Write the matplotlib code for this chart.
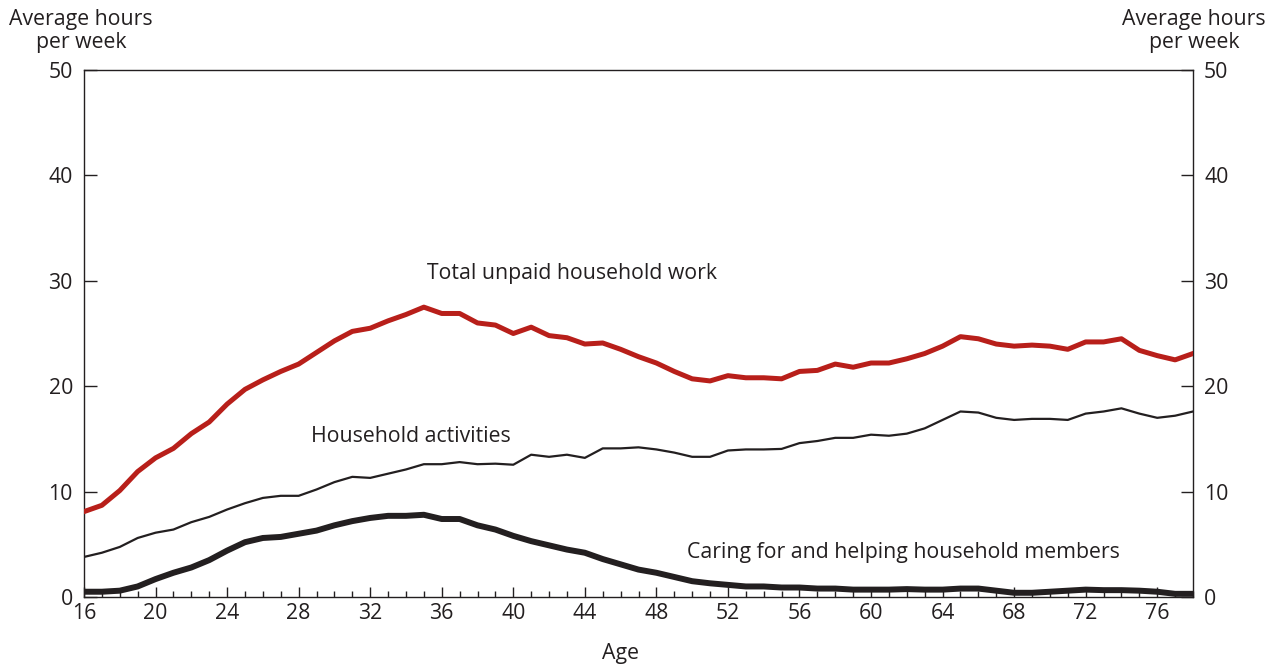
import matplotlib
matplotlib.use("Agg")
import matplotlib.pyplot as plt
from matplotlib.ticker import MultipleLocator

ages = list(range(16, 79))
total = [8.1, 8.7, 10.1, 11.9, 13.2, 14.1, 15.5, 16.6, 18.3, 19.7, 20.6, 21.4, 22.1, 23.2, 24.3, 25.2,
         25.5, 26.2, 26.8, 27.5, 26.9, 26.9, 26.0, 25.8, 25.0, 25.6, 24.8, 24.6, 24.0, 24.1, 23.5, 22.8,
         22.2, 21.4, 20.7, 20.5, 21.0, 20.8, 20.8, 20.7, 21.4, 21.5, 22.1, 21.8, 22.2, 22.2, 22.6, 23.1,
         23.8, 24.7, 24.5, 24.0, 23.8, 23.9, 23.8, 23.5, 24.2, 24.2, 24.5, 23.4, 22.9, 22.5, 23.1]
household = [3.8, 4.2, 4.75, 5.6, 6.1, 6.4, 7.1, 7.6, 8.3, 8.9, 9.4, 9.6, 9.6, 10.2, 10.9, 11.4,
             11.3, 11.7, 12.1, 12.6, 12.6, 12.8, 12.6, 12.65, 12.55, 13.5, 13.3, 13.5, 13.2, 14.1, 14.1, 14.2,
             14.0, 13.7, 13.3, 13.3, 13.9, 14.0, 14.0, 14.05, 14.6, 14.8, 15.1, 15.1, 15.4, 15.3, 15.5, 16.0,
             16.8, 17.6, 17.5, 17.0, 16.8, 16.9, 16.9, 16.8, 17.4, 17.6, 17.9, 17.4, 17.0, 17.2, 17.6]
caring = [0.5, 0.5, 0.6, 1.0, 1.7, 2.3, 2.8, 3.5, 4.4, 5.2, 5.6, 5.7, 6.0, 6.3, 6.8, 7.2,
          7.5, 7.7, 7.7, 7.8, 7.4, 7.4, 6.8, 6.4, 5.8, 5.3, 4.9, 4.5, 4.2, 3.6, 3.1, 2.6,
          2.3, 1.9, 1.5, 1.3, 1.15, 1.0, 1.0, 0.9, 0.9, 0.8, 0.8, 0.7, 0.7, 0.7, 0.75, 0.7,
          0.7, 0.8, 0.8, 0.6, 0.4, 0.4, 0.5, 0.6, 0.7, 0.65, 0.65, 0.6, 0.5, 0.3, 0.3]
x_ticks = list(range(16, 79, 4))
y_ticks = [0, 10, 20, 30, 40, 50]

plt.rcParams['font.family'] = ['Open Sans', 'DejaVu Sans']
TXT = '#231f20'
FS = 15.3

fig = plt.figure(figsize=(12.76, 6.66), dpi=100)
ax = fig.add_axes([84/1276, 1-597/666, (1193-84)/1276, (597-70)/666])

ax.plot(ages, total, color='#b81f1a', lw=3.6, solid_joinstyle='round', zorder=3)
ax.plot(ages, household, color=TXT, lw=1.6, zorder=3)
ax.plot(ages, caring, color=TXT, lw=4.3, solid_joinstyle='round', zorder=3)

ax.set_xlim(16, 78)
ax.set_ylim(0, 50)
ax.set_xticks(x_ticks)
ax.xaxis.set_minor_locator(MultipleLocator(1))
ax.set_yticks(y_ticks)
ax.tick_params(axis='x', which='major', direction='in', length=7.5, width=1, color=TXT,
               labelsize=FS, labelcolor=TXT, pad=4)
ax.tick_params(axis='x', which='minor', direction='in', length=4, width=1, color=TXT)
ax.tick_params(axis='y', which='major', direction='in', length=9, width=1, color=TXT,
               labelsize=FS, labelcolor=TXT, left=True, right=True, labelleft=True, labelright=True, pad=8)
for s in ax.spines.values():
    s.set_color(TXT)
    s.set_linewidth(1.0)

fig.text(81/1276, 1-31/666, 'Average hours\nper week', ha='center', va='center', fontsize=FS,
         color=TXT, linespacing=1.15)
fig.text(1194/1276, 1-31/666, 'Average hours\nper week', ha='center', va='center', fontsize=FS,
         color=TXT, linespacing=1.15)
fig.text(620/1276, 1-653/666, 'Age', ha='center', va='center', fontsize=FS, color=TXT)

ax.text(35.17, 30.7, 'Total unpaid household work', fontsize=FS, color=TXT, va='center', ha='left')
ax.text(28.69, 15.2, 'Household activities', fontsize=FS, color=TXT, va='center', ha='left')
ax.text(49.7, 4.18, 'Caring for and helping household members', fontsize=FS, color=TXT, va='center', ha='left')

fig.savefig('out.png', dpi=100)
